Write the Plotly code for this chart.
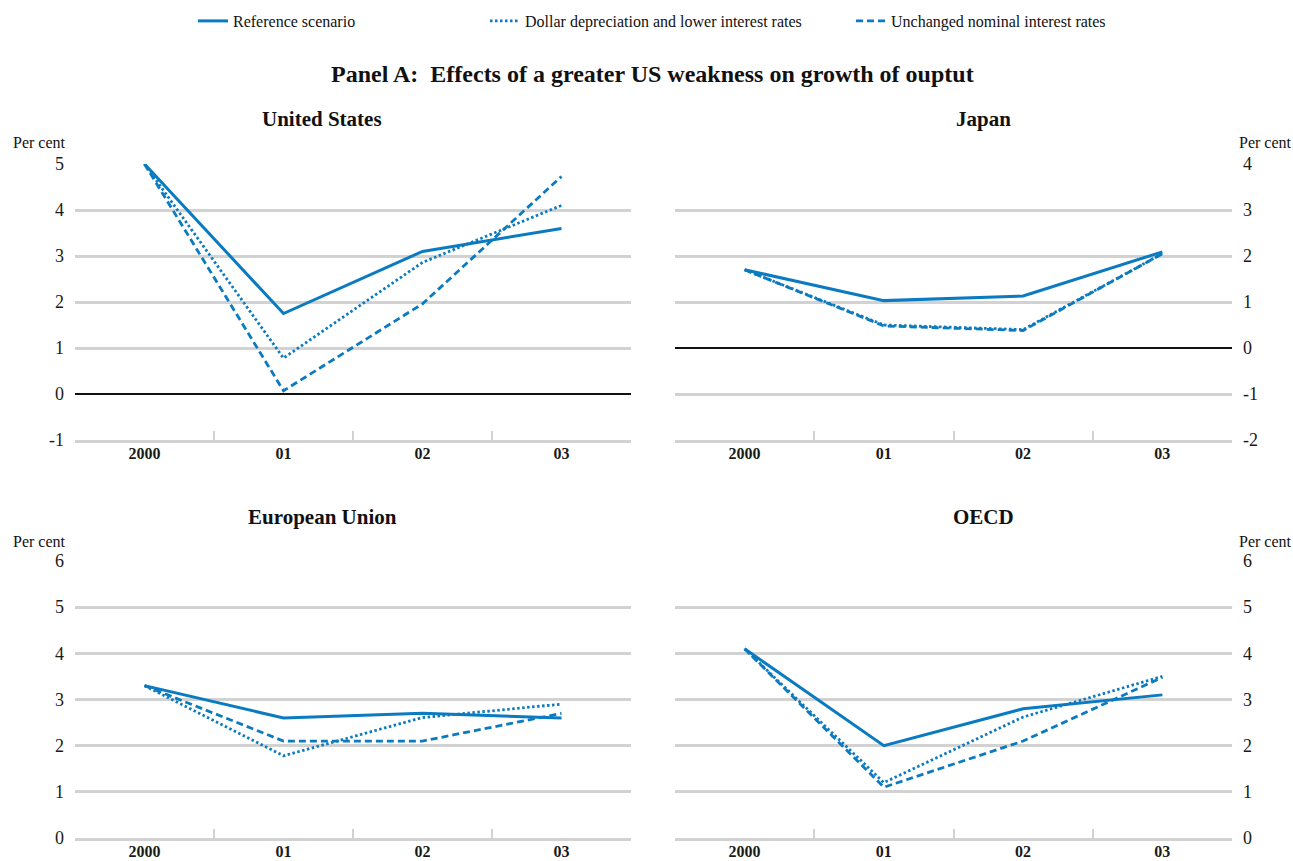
import plotly.graph_objects as go

# Years on the horizontal axis
years = ["2000", "01", "02", "03"]

# Growth of output, per cent, by scenario
us_reference = [5.0, 1.75, 3.1, 3.6]
us_dollar = [5.0, 0.78, 2.86, 4.1]
us_unchanged = [5.0, 0.07, 1.96, 4.73]

japan_reference = [1.7, 1.03, 1.13, 2.09]
japan_dollar = [1.7, 0.5, 0.4, 2.05]
japan_unchanged = [1.7, 0.48, 0.38, 2.05]

eu_reference = [3.3, 2.6, 2.7, 2.6]
eu_dollar = [3.3, 1.78, 2.61, 2.9]
eu_unchanged = [3.3, 2.1, 2.1, 2.7]

oecd_reference = [4.1, 2.0, 2.8, 3.1]
oecd_dollar = [4.1, 1.2, 2.62, 3.5]
oecd_unchanged = [4.1, 1.1, 2.1, 3.48]

scenario_names = [
    "Reference scenario",
    "Dollar depreciation and lower interest rates",
    "Unchanged nominal interest rates",
]

# Y-axis tick values and labels per panel
top_left_ticks = [-1, 0, 1, 2, 3, 4, 5]
top_left_labels = ["-1", "0", "1", "2", "3", "4", "5"]
top_right_ticks = [-2, -1, 0, 1, 2, 3, 4]
top_right_labels = ["-2", "-1", "0", "1", "2", "3", "4"]
bottom_ticks = [0, 1, 2, 3, 4, 5, 6]
bottom_labels = ["0", "1", "2", "3", "4", "5", "6"]

panel_titles = ["United States", "Japan", "European Union", "OECD"]
main_title = "Panel A:  Effects of a greater US weakness on growth of ouptut"

BLUE = "#0b7bc1"
GRID = "#d2d2d2"
SERIF = "Liberation Serif, Times New Roman, serif"
W, H = 1293, 861

styles = [
    dict(width=3, dash="solid"),
    dict(width=2.8, dash="2.5px,2.5px"),
    dict(width=2.8, dash="7px,4px"),
]

panels = [
    (us_reference, us_dollar, us_unchanged),
    (japan_reference, japan_dollar, japan_unchanged),
    (eu_reference, eu_dollar, eu_unchanged),
    (oecd_reference, oecd_dollar, oecd_unchanged),
]

x_idx = list(range(len(years)))

fig = go.Figure()
legends = ["legend", "legend2", "legend3"]
for p, series in enumerate(panels):
    suffix = "" if p == 0 else str(p + 1)
    for s, vals in enumerate(series):
        fig.add_trace(go.Scatter(
            x=x_idx, y=vals, mode="lines",
            name=scenario_names[s],
            line=dict(color=BLUE, **styles[s]),
            xaxis="x" + suffix, yaxis="y" + suffix,
            showlegend=(p == 0), legend=legends[s],
            hoverinfo="skip",
        ))

# Pixel-based domains
def px_x(a, b):
    return [a / W, b / W]

def px_y(top, bottom):
    return [1 - bottom / H, 1 - top / H]

x_domains = [px_x(75, 631), px_x(675, 1232), px_x(75, 631), px_x(675, 1232)]
y_domains = [px_y(164, 440), px_y(164, 440), px_y(561, 838), px_y(561, 838)]
y_ranges = [[-1, 5], [-2, 4], [0, 6], [0, 6]]
y_ticks = [(top_left_ticks, top_left_labels), (top_right_ticks, top_right_labels),
           (bottom_ticks, bottom_labels), (bottom_ticks, bottom_labels)]
sides = ["left", "right", "left", "right"]

layout = {}
for p in range(4):
    suffix = "" if p == 0 else str(p + 1)
    layout["xaxis" + suffix] = dict(
        domain=x_domains[p], anchor="y" + suffix, automargin=False,
        range=[-0.5, 3.5], tickmode="array", tickvals=x_idx, ticktext=years,
        showgrid=False, zeroline=False, ticks="", ticklabelstandoff=-3,
        showline=True, linecolor=GRID, linewidth=3,
        tickfont=dict(family=SERIF, size=16, color="#1a1a1a", weight="bold"),
        minor=dict(tickmode="array", tickvals=[0.5, 1.5, 2.5], ticks="inside",
                   ticklen=9, tickwidth=2, tickcolor=GRID, showgrid=False),
        fixedrange=True,
    )
    tv, tt = y_ticks[p]
    layout["yaxis" + suffix] = dict(
        domain=y_domains[p], anchor="x" + suffix, side=sides[p], automargin=False,
        range=y_ranges[p], tickmode="array", tickvals=tv, ticktext=tt,
        showgrid=True, gridcolor=GRID, gridwidth=3,
        zeroline=True, zerolinecolor="#111111", zerolinewidth=1.6,
        showline=False, ticks="", ticklabelstandoff=10,
        tickfont=dict(family=SERIF, size=18, color="#1a1a1a"),
        fixedrange=True,
    )

annotations = [
    dict(text=main_title, x=652 / W, y=1 - 74 / H, xref="paper", yref="paper",
         xanchor="center", yanchor="middle", showarrow=False,
         font=dict(family=SERIF, size=24, color="#111111", weight="bold")),
]
title_pos = [(322, 119), (983, 119), (322, 517), (983, 517)]
for name, (tx, ty) in zip(panel_titles, title_pos):
    annotations.append(dict(text=name, x=tx / W, y=1 - ty / H, xref="paper", yref="paper",
                            xanchor="center", yanchor="middle", showarrow=False,
                            font=dict(family=SERIF, size=21, color="#111111", weight="bold")))
percent_pos = [(39, 143), (1265, 143), (39, 541), (1265, 541)]
for tx, ty in percent_pos:
    annotations.append(dict(text="Per cent", x=tx / W, y=1 - ty / H, xref="paper", yref="paper",
                            xanchor="center", yanchor="middle", showarrow=False,
                            font=dict(family=SERIF, size=16, color="#111111")))

legend_font = dict(family=SERIF, size=16, color="#111111")
legend_style = dict(orientation="h", yanchor="middle", xanchor="left",
                    bgcolor="rgba(0,0,0,0)", itemwidth=30)
layout["legend"] = dict(x=193 / W, y=1 - 21 / H, font=legend_font, **legend_style)
layout["legend2"] = dict(x=485 / W, y=1 - 21 / H, font=legend_font, **legend_style)
layout["legend3"] = dict(x=851 / W, y=1 - 21 / H, font=legend_font, **legend_style)

fig.update_layout(
    width=W, height=H,
    margin=dict(l=0, r=0, t=0, b=0, autoexpand=False),
    font=dict(family=SERIF, color="#111111"),
    paper_bgcolor="white", plot_bgcolor="white",
    annotations=annotations,
    **layout,
)

fig.write_html("out.html")
